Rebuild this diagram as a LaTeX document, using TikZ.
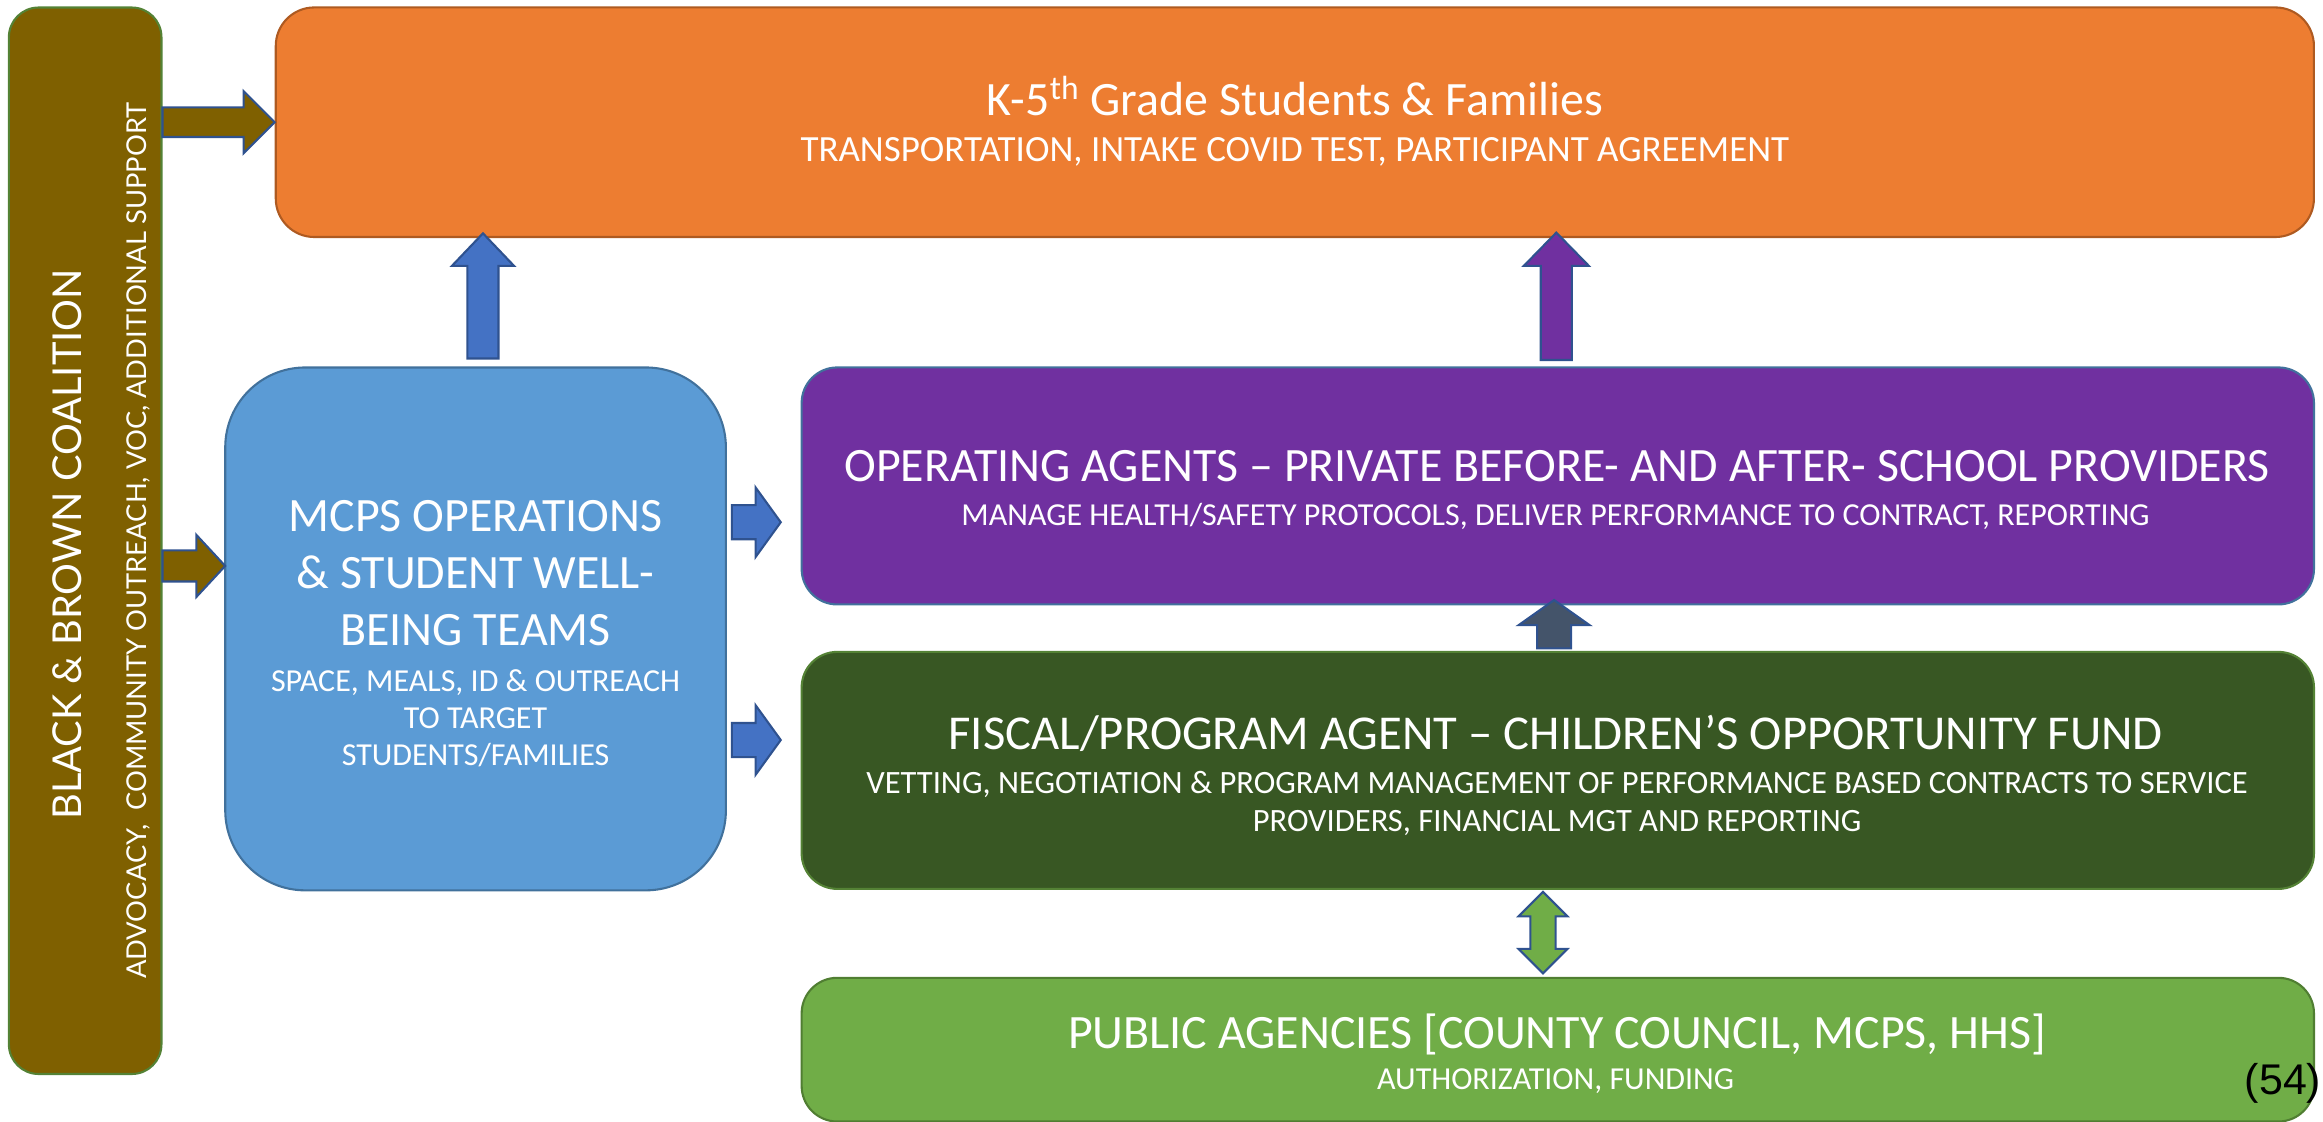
\documentclass[tikz,border=0pt]{standalone}
\usepackage{fontspec}
\setmainfont{Carlito}
\newfontfamily\gillfont{Lato}
\newfontfamily\arialfont{Liberation Sans}
\usetikzlibrary{calc}

\definecolor{coalfill}{HTML}{7F6000}
\definecolor{coaledge}{HTML}{548235}
\definecolor{kidsfill}{HTML}{ED7D31}
\definecolor{kidsedge}{HTML}{AE5A21}
\definecolor{mcpsfill}{HTML}{5B9BD5}
\definecolor{mcpsedge}{HTML}{41719C}
\definecolor{operfill}{HTML}{7030A0}
\definecolor{fundfill}{HTML}{385723}
\definecolor{fundedge}{HTML}{548235}
\definecolor{pubfill}{HTML}{70AD47}
\definecolor{pubedge}{HTML}{507E32}
\definecolor{arrowedge}{HTML}{2F528F}
\definecolor{arrowblue}{HTML}{4472C4}
\definecolor{arrowslate}{HTML}{44546A}

% block arrow: style, tail, tip, body half-width, head half-width, head length
\newcommand{\blockarrow}[6]{%
  \draw[#1] ($(#2)!#4!90:(#3)$) -- ($(#3)!#6!(#2)!#4!-90:(#2)$)
    -- ($(#3)!#6!(#2)!#5!-90:(#2)$) -- (#3)
    -- ($(#3)!#6!(#2)!#5!90:(#2)$) -- ($(#3)!#6!(#2)!#4!90:(#2)$)
    -- ($(#2)!#4!-90:(#3)$) -- cycle;}
% double block arrow: style, end a, end b, body half-width, head half-width, head length
\newcommand{\dblockarrow}[6]{%
  \draw[#1] (#2) -- ($(#2)!#6!(#3)!#5!90:(#3)$) -- ($(#2)!#6!(#3)!#4!90:(#3)$)
    -- ($(#3)!#6!(#2)!#4!-90:(#2)$) -- ($(#3)!#6!(#2)!#5!-90:(#2)$) -- (#3)
    -- ($(#3)!#6!(#2)!#5!90:(#2)$) -- ($(#3)!#6!(#2)!#4!90:(#2)$)
    -- ($(#2)!#6!(#3)!#4!-90:(#3)$) -- ($(#2)!#6!(#3)!#5!-90:(#3)$) -- cycle;}

\begin{document}
\begin{tikzpicture}[x=0.02cm, y=-0.02cm, line join=round]
  % styles
  \tikzset{
    box/.style={draw, line width=0.8pt, inner sep=0pt},
    ttl/.style={text=white, font=\fontsize{18.4}{21.8}\selectfont, inner sep=0pt, anchor=base},
    sub/.style={text=white, font=\fontsize{12.3}{14.2}\selectfont, inner sep=0pt, anchor=base},
    barrow/.style={draw=arrowedge, line width=0.8pt, line join=miter}
  }

  \useasboundingbox (0,0) rectangle (1568,757);

  % ----- boxes -----
  \node[box, draw=coaledge, fill=coalfill, rounded corners=0.4cm,
        minimum width=2.06cm, minimum height=14.4cm] (coal) at (57.5,365) {};
  \node[box, draw=kidsedge, fill=kidsfill, rounded corners=0.52cm,
        minimum width=27.52cm, minimum height=3.1cm] (kids) at (874,82.5) {};
  \node[box, draw=mcpsedge, fill=mcpsfill, rounded corners=1.08cm,
        minimum width=6.76cm, minimum height=7.06cm] (mcps) at (321,424.5) {};
  \node[box, draw=mcpsedge, fill=operfill, rounded corners=0.48cm,
        minimum width=20.42cm, minimum height=3.2cm] (oper) at (1051.5,328) {};
  \node[box, draw=fundedge, fill=fundfill, rounded corners=0.48cm,
        minimum width=20.42cm, minimum height=3.2cm] (fund) at (1051.5,520) {};
  \node[box, draw=pubedge, fill=pubfill, rounded corners=0.48cm,
        minimum width=20.42cm, minimum height=1.94cm] (pub) at (1051.5,708.5) {};

  % ----- texts -----
  \node[text=white, font=\gillfont\fontsize{15.3}{18}\selectfont, rotate=90,
        inner sep=0pt, anchor=base] (coalT) at (54.7,367.5) {BLACK \& BROWN COALITION};
  \node[text=white, font=\gillfont\fontsize{10.5}{13}\selectfont, rotate=90,
        inner sep=0pt, anchor=base] (coalS) at (98.6,365)
        {ADVOCACY,\ \ COMMUNITY OUTREACH, VOC, ADDITIONAL SUPPORT};

  \node[ttl] (kidsT) at (874,78) {K-5\textsuperscript{th} Grade Students \& Families};
  \node[sub, font=\fontsize{14.2}{16}\selectfont] (kidsS) at (874,109)
        {TRANSPORTATION, INTAKE COVID TEST, PARTICIPANT AGREEMENT};

  \node[ttl, anchor=north, align=center] (mcpsT) at (321,337.7)
        {MCPS OPERATIONS\\\& STUDENT WELL-\\BEING TEAMS};
  \node[sub, anchor=north, align=center] (mcpsS) at (321,451.5)
        {SPACE, MEALS, ID \& OUTREACH\\TO TARGET\\STUDENTS/FAMILIES};

  \node[ttl] (operT) at (1051,325)
        {OPERATING AGENTS – PRIVATE BEFORE- AND AFTER- SCHOOL PROVIDERS};
  \node[sub] (operS) at (1050,354.5)
        {MANAGE HEALTH/SAFETY PROTOCOLS, DELIVER PERFORMANCE TO CONTRACT, REPORTING};

  \node[ttl, font=\fontsize{18.7}{21.8}\selectfont] (fundT) at (1050,506)
        {FISCAL/PROGRAM AGENT – CHILDREN’S OPPORTUNITY FUND};
  \node[sub, anchor=north, align=center, font=\fontsize{12.5}{14.7}\selectfont] (fundS) at (1051,520)
        {VETTING, NEGOTIATION \& PROGRAM MANAGEMENT OF PERFORMANCE BASED CONTRACTS TO SERVICE\\
         PROVIDERS, FINANCIAL MGT AND REPORTING};

  \node[ttl] (pubT) at (1051,708) {PUBLIC AGENCIES [COUNTY COUNCIL, MCPS, HHS]};
  \node[sub] (pubS) at (1050,735.5) {AUTHORIZATION, FUNDING};

  \node[font=\arialfont\fontsize{16.5}{18}\selectfont, inner sep=0pt] (pnum) at (1541,731) {(54)};

  % ----- arrow ends -----
  \coordinate (o1s) at (coal.east |- kids.west);
  \coordinate (o2e) at (152,382);
  \coordinate (o2s) at (coal.east |- o2e);
  \coordinate (m1s) at (326,242);
  \coordinate (m1e) at (326,157.5);
  \coordinate (r1s) at (494,352.5);
  \coordinate (r1e) at (527,352.5);
  \coordinate (r2s) at (494,499.5);
  \coordinate (r2e) at (527,499.5);
  \coordinate (p1s) at (1050.5,243);
  \coordinate (p1e) at (1050.5,157);
  \coordinate (f1s) at (1049,437.6);
  \coordinate (f1e) at (1049,405);
  \coordinate (g1a) at (1041.5,602);
  \coordinate (g1b) at (1041.5,657);

  % ----- arrows -----
  \blockarrow{barrow, fill=coalfill}{o1s}{kids.west}{0.2cm}{0.42cm}{0.42cm}
  \blockarrow{barrow, fill=coalfill}{o2s}{o2e}{0.21cm}{0.42cm}{0.39cm}
  \blockarrow{barrow, fill=arrowblue}{m1s}{m1e}{0.21cm}{0.42cm}{0.44cm}
  \blockarrow{barrow, fill=arrowblue}{r1s}{r1e}{0.23cm}{0.47cm}{0.34cm}
  \blockarrow{barrow, fill=arrowblue}{r2s}{r2e}{0.23cm}{0.47cm}{0.34cm}
  \blockarrow{barrow, fill=operfill}{p1s}{p1e}{0.21cm}{0.44cm}{0.45cm}
  \blockarrow{barrow, fill=arrowslate}{f1s}{f1e}{0.23cm}{0.48cm}{0.34cm}
  \dblockarrow{barrow, fill=pubfill}{g1a}{g1b}{0.17cm}{0.33cm}{0.33cm}
\end{tikzpicture}
\end{document}
